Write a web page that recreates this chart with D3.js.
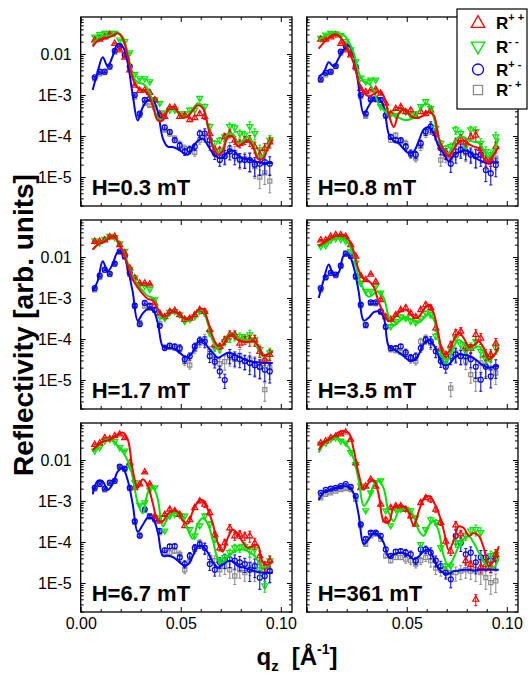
<!DOCTYPE html>
<html>
<head>
<meta charset="utf-8">
<title>Spin-polarized reflectivity vs field</title>
<script src="https://cdn.jsdelivr.net/npm/d3@7"></script>
<style>
  body { margin: 0; background: #fff; }
  svg { display: block; font-family: "Liberation Sans", Arial, sans-serif; }
</style>
</head>
<body>
<div id="chart"></div>
<script>
// q grid of the measured points and of the fitted curves (1/A)
const qData = [0.007, 0.0095, 0.012, 0.0145, 0.017, 0.0195, 0.022, 0.0245, 0.027, 0.0295, 0.032, 0.0345,
  0.037, 0.0395, 0.042, 0.0445, 0.047, 0.0495, 0.052, 0.0545, 0.057, 0.0595, 0.062, 0.0645,
  0.067, 0.0695, 0.072, 0.0745, 0.077, 0.0795, 0.082, 0.0845, 0.087, 0.0895, 0.092, 0.0945];
const qFit = [0.006, 0.0085, 0.011, 0.0135, 0.016, 0.0185, 0.021, 0.0235, 0.026, 0.0285, 0.031, 0.0335,
  0.036, 0.0385, 0.041, 0.0435, 0.046, 0.0485, 0.051, 0.0535, 0.056, 0.0585, 0.061, 0.0635,
  0.066, 0.0685, 0.071, 0.0735, 0.076, 0.0785, 0.081, 0.0835, 0.086, 0.0885, 0.091, 0.0935, 0.096];

const fieldLabels = ["H=0.3 mT", "H=0.8 mT", "H=1.7 mT", "H=3.5 mT", "H=6.7 mT", "H=361 mT"];
const xTicks = [0, 0.05, 0.10];
const xTickLabels = ["0.00", "0.05", "0.10"];
const yTicks = [1e-2, 1e-3, 1e-4, 1e-5];
const yTickLabels = ["0.01", "1E-3", "1E-4", "1E-5"];

// relative error bars (non spin-flip / spin-flip)
const errNSF = [0.03, 0.03, 0.03, 0.03, 0.03, 0.03, 0.03, 0.03, 0.03, 0.03, 0.03, 0.03,
  0.06, 0.06, 0.06, 0.06, 0.06, 0.1, 0.1, 0.1, 0.1, 0.1, 0.16, 0.16,
  0.16, 0.16, 0.22, 0.22, 0.22, 0.22, 0.22, 0.3, 0.3, 0.3, 0.3, 0.3];
const errSF = [0.04, 0.04, 0.04, 0.04, 0.04, 0.04, 0.06, 0.06, 0.06, 0.06, 0.06, 0.06,
  0.12, 0.12, 0.12, 0.12, 0.12, 0.2, 0.2, 0.2, 0.2, 0.2, 0.3, 0.3,
  0.3, 0.3, 0.38, 0.38, 0.38, 0.38, 0.38, 0.48, 0.48, 0.48, 0.48, 0.48];

// H = 0.3 mT
const pp1 = [2.2e-2, 2.3e-2, 2.6e-2, 3.0e-2, 1.82e-2, 1.26e-2, 8.3e-3, 4.1e-3, 1.74e-3, 1.29e-3, 1.32e-3, 1.15e-3,
  7.6e-4, 3.5e-4, 3.0e-4, 5.0e-4, 5.0e-4, 3.0e-4, 3.2e-4, 2.5e-4, 2.8e-4, 3.5e-4, 3.0e-4, 1.15e-4,
  4.6e-5, 4.6e-5, 9.5e-5, 1.15e-4, 7.9e-5, 6.6e-5, 7.9e-5, 7.9e-5, 5.5e-5, 3.5e-5, 5.0e-5, 7.2e-5];
const mm1 = [2.6e-2, 3.0e-2, 3.2e-2, 3.2e-2, 3.2e-2, 2.2e-2, 2.0e-2, 1.07e-2, 3.2e-3, 2.5e-3, 2.5e-3, 2.1e-3,
  7.6e-4, 6.3e-4, 3.7e-4, 4.3e-4, 4.3e-4, 3.5e-4, 3.5e-4, 4.3e-4, 4.3e-4, 8.3e-4, 5.2e-4, 1.7e-4,
  6.6e-5, 7.9e-5, 9.5e-5, 1.7e-4, 1.58e-4, 1.15e-4, 1.05e-4, 1.7e-4, 1.15e-4, 4.6e-5, 4.2e-5, 7.9e-5];
const pm1 = [2.7e-3, 3.7e-3, 3.7e-3, 5.0e-3, 1.2e-2, 1.58e-2, 9.5e-3, 5.0e-3, 1.0e-3, 3.5e-4, 7.6e-4, 8.1e-4,
  7.6e-4, 3.2e-4, 1.62e-4, 1.26e-4, 7.9e-5, 5.8e-5, 4.2e-5, 4.7e-5, 5.5e-5, 1.15e-4, 1.15e-4, 7.9e-5,
  3.8e-5, 2.6e-5, 3.2e-5, 4.2e-5, 3.2e-5, 2.7e-5, 2.6e-5, 2.6e-5, 2.0e-5, 2.1e-5, 2.3e-5, 2.1e-5];
const mp1 = [2.5e-3, 3.3e-3, 3.5e-3, 4.7e-3, 1.12e-2, 1.51e-2, 8.9e-3, 4.7e-3, 8.9e-4, 3.2e-4, 6.3e-4, 5.6e-4,
  5.0e-4, 2.8e-4, 1.41e-4, 1.12e-4, 8.9e-5, 6.3e-5, 5.0e-5, 4.5e-5, 4.0e-5, 7.9e-5, 1.0e-4, 6.3e-5,
  4.5e-5, 3.2e-5, 3.5e-5, 5.0e-5, 4.0e-5, 2.5e-5, 2.8e-5, 2.5e-5, 1.78e-5, 1.0e-5, 1.26e-5, 7.9e-6];
const fitPP1 = [1.51e-2, 2.1e-2, 2.3e-2, 2.5e-2, 2.8e-2, 3.2e-2, 2.4e-2, 8.9e-3, 2.5e-3, 1.51e-3, 1.32e-3, 1.07e-3,
  5.6e-4, 2.4e-4, 2.4e-4, 4.2e-4, 5.2e-4, 4.0e-4, 2.8e-4, 3.0e-4, 4.2e-4, 5.6e-4, 4.8e-4, 1.78e-4,
  5.6e-5, 3.5e-5, 4.2e-5, 9.5e-5, 9.5e-5, 5.6e-5, 6.6e-5, 7.9e-5, 5.6e-5, 2.8e-5, 2.8e-5, 5.0e-5, 8.3e-5];
const fitMM1 = [1.66e-2, 2.4e-2, 2.8e-2, 2.8e-2, 3.0e-2, 3.3e-2, 2.6e-2, 1.05e-2, 3.0e-3, 2.0e-3, 1.9e-3, 1.41e-3,
  6.6e-4, 2.8e-4, 2.5e-4, 4.2e-4, 5.0e-4, 3.8e-4, 2.8e-4, 3.2e-4, 4.5e-4, 6.3e-4, 5.2e-4, 1.9e-4,
  6.0e-5, 4.0e-5, 5.0e-5, 1.12e-4, 1.12e-4, 6.6e-5, 7.6e-5, 9.5e-5, 6.6e-5, 3.3e-5, 3.2e-5, 5.6e-5, 9.5e-5];
const fitPM1 = [1.32e-3, 3.7e-3, 8.3e-3, 5.0e-3, 8.9e-3, 1.74e-2, 1.51e-2, 6.0e-3, 1.0e-3, 2.4e-4, 5.0e-4, 7.4e-4,
  7.4e-4, 4.0e-4, 8.9e-5, 5.5e-5, 5.4e-5, 4.8e-5, 4.0e-5, 3.5e-5, 5.2e-5, 7.6e-5, 8.5e-5, 6.0e-5,
  3.8e-5, 3.0e-5, 3.0e-5, 4.0e-5, 4.4e-5, 3.5e-5, 2.8e-5, 2.7e-5, 2.5e-5, 2.3e-5, 2.2e-5, 2.2e-5, 2.2e-5];

// H = 0.8 mT
const pp2 = [2.3e-2, 2.3e-2, 2.6e-2, 2.9e-2, 1.82e-2, 1.26e-2, 9.5e-3, 4.9e-3, 1.45e-3, 1.2e-3, 1.32e-3, 1.38e-3,
  1.1e-3, 6.3e-4, 3.5e-4, 4.7e-4, 5.2e-4, 3.9e-4, 4.3e-4, 3.0e-4, 3.9e-4, 3.5e-4, 4.3e-4, 1.15e-4,
  5.5e-5, 3.8e-5, 3.5e-5, 7.2e-5, 8.7e-5, 7.2e-5, 9.5e-5, 1.05e-4, 5.0e-5, 2.6e-5, 2.6e-5, 5.5e-5];
const mm2 = [2.4e-2, 2.9e-2, 3.2e-2, 3.1e-2, 2.8e-2, 2.0e-2, 1.26e-2, 6.5e-3, 2.6e-3, 2.1e-3, 2.3e-3, 2.3e-3,
  5.2e-4, 4.3e-4, 3.5e-4, 3.2e-4, 4.3e-4, 3.9e-4, 3.2e-4, 3.5e-4, 5.2e-4, 6.9e-4, 4.7e-4, 1.55e-4,
  6.6e-5, 5.0e-5, 5.5e-5, 1.41e-4, 1.15e-4, 5.5e-5, 1.41e-4, 1.29e-4, 6.6e-5, 4.2e-5, 3.5e-5, 9.5e-5];
const pm2 = [2.4e-3, 3.5e-3, 3.7e-3, 5.1e-3, 1.15e-2, 1.58e-2, 1.07e-2, 4.9e-3, 1.0e-3, 3.5e-4, 7.9e-4, 7.9e-4,
  7.6e-4, 3.2e-4, 9.5e-5, 7.9e-5, 7.9e-5, 5.5e-5, 3.8e-5, 3.5e-5, 6.6e-5, 1.29e-4, 1.7e-4, 1.15e-4,
  5.0e-5, 3.8e-5, 2.1e-5, 3.5e-5, 4.6e-5, 4.2e-5, 3.5e-5, 3.2e-5, 3.5e-5, 1.48e-5, 1.23e-5, 1.95e-5];
const mp2 = [2.3e-3, 3.1e-3, 3.5e-3, 4.9e-3, 1.05e-2, 1.51e-2, 1.15e-2, 4.5e-3, 9.1e-4, 3.0e-4, 7.6e-4, 8.3e-4,
  7.6e-4, 3.0e-4, 7.9e-5, 1.05e-4, 7.2e-5, 6.6e-5, 3.5e-5, 2.9e-5, 5.5e-5, 1.15e-4, 1.55e-4, 1.29e-4,
  2.6e-5, 3.2e-5, 2.9e-5, 4.2e-5, 5.0e-5, 3.8e-5, 3.8e-5, 3.2e-5, 4.2e-5, 2.9e-5, 2.7e-5, 2.9e-5];
const fitPP2 = [1.35e-2, 1.9e-2, 2.5e-2, 3.0e-2, 2.8e-2, 2.0e-2, 1.17e-2, 6.0e-3, 2.1e-3, 1.12e-3, 9.3e-4, 1.05e-3,
  1.2e-3, 9.3e-4, 3.3e-4, 1.66e-4, 3.5e-4, 4.5e-4, 3.5e-4, 2.8e-4, 2.8e-4, 3.2e-4, 3.8e-4, 3.2e-4,
  8.9e-5, 4.5e-5, 3.3e-5, 4.8e-5, 7.1e-5, 7.6e-5, 6.3e-5, 5.5e-5, 5.0e-5, 2.8e-5, 2.2e-5, 3.5e-5, 5.6e-5];
const fitMM2 = [2.2e-2, 2.6e-2, 3.0e-2, 3.2e-2, 3.2e-2, 2.9e-2, 2.0e-2, 1.05e-2, 3.5e-3, 2.1e-3, 1.9e-3, 1.26e-3,
  6.0e-4, 4.3e-4, 3.3e-4, 3.2e-4, 2.8e-4, 2.5e-4, 2.5e-4, 2.8e-4, 4.0e-4, 5.8e-4, 5.8e-4, 2.8e-4,
  8.9e-5, 4.5e-5, 3.8e-5, 6.3e-5, 9.5e-5, 9.5e-5, 7.9e-5, 7.2e-5, 6.9e-5, 4.5e-5, 3.0e-5, 4.5e-5, 8.9e-5];
const fitPM2 = [2.8e-3, 3.5e-3, 6.3e-3, 5.0e-3, 7.9e-3, 1.26e-2, 1.62e-2, 9.5e-3, 1.58e-3, 3.5e-4, 5.4e-4, 8.1e-4,
  8.1e-4, 5.2e-4, 1.12e-4, 7.6e-5, 6.6e-5, 4.8e-5, 3.8e-5, 4.2e-5, 7.6e-5, 1.45e-4, 1.66e-4, 1.12e-4,
  5.5e-5, 3.7e-5, 2.4e-5, 3.4e-5, 4.0e-5, 4.4e-5, 4.2e-5, 3.2e-5, 2.6e-5, 2.3e-5, 2.1e-5, 2.3e-5, 2.3e-5];

// H = 1.7 mT
const pp3 = [2.4e-2, 2.4e-2, 2.6e-2, 3.1e-2, 3.2e-2, 2.0e-2, 1.26e-2, 5.4e-3, 3.1e-3, 2.3e-3, 2.3e-3, 2.2e-3,
  7.6e-4, 4.3e-4, 3.5e-4, 4.7e-4, 5.0e-4, 3.9e-4, 3.0e-4, 3.2e-4, 3.9e-4, 5.2e-4, 4.7e-4, 1.7e-4,
  7.2e-5, 6.6e-5, 9.5e-5, 1.29e-4, 1.29e-4, 7.9e-5, 9.5e-5, 9.5e-5, 9.5e-5, 5.0e-5, 3.2e-5, 4.2e-5];
const mm3 = [2.5e-2, 2.2e-2, 2.7e-2, 3.2e-2, 3.0e-2, 2.1e-2, 1.38e-2, 5.0e-3, 3.1e-3, 2.1e-3, 1.95e-3, 1.62e-3,
  9.1e-4, 3.5e-4, 3.2e-4, 4.5e-4, 4.7e-4, 3.9e-4, 2.7e-4, 3.0e-4, 3.5e-4, 4.7e-4, 4.3e-4, 1.41e-4,
  6.0e-5, 5.5e-5, 8.7e-5, 1.05e-4, 1.15e-4, 1.15e-4, 1.05e-4, 1.26e-4, 9.5e-5, 5.5e-5, 2.9e-5, 4.6e-5];
const pm3 = [1.74e-3, 3.5e-3, 4.9e-3, 3.9e-3, 6.9e-3, 1.38e-2, 1.05e-2, 4.1e-3, 6.5e-4, 2.3e-4, 7.6e-4, 6.5e-4,
  5.2e-4, 2.1e-4, 6.0e-5, 6.9e-5, 6.6e-5, 6.0e-5, 3.2e-5, 3.8e-5, 6.6e-5, 9.3e-5, 8.7e-5, 3.8e-5,
  2.8e-5, 1.62e-5, 1.0e-5, 4.0e-5, 3.5e-5, 3.2e-5, 2.9e-5, 2.6e-5, 2.3e-5, 2.1e-5, 1.78e-5, 1.62e-5];
const mp3 = [1.58e-3, 3.2e-3, 4.7e-3, 3.7e-3, 6.6e-3, 1.32e-2, 1.0e-2, 3.8e-3, 6.3e-4, 2.5e-4, 6.3e-4, 5.6e-4,
  5.0e-4, 2.4e-4, 6.3e-5, 6.3e-5, 6.0e-5, 5.6e-5, 2.8e-5, 2.3e-5, 5.6e-5, 7.9e-5, 1.0e-4, 5.0e-5,
  3.2e-5, 2.5e-5, 2.8e-5, 3.5e-5, 3.2e-5, 4.0e-5, 2.8e-5, 3.2e-5, 2.5e-5, 2.0e-5, 5.8e-6, 2.0e-5];
const fitPP3 = [1.51e-2, 2.0e-2, 2.3e-2, 2.7e-2, 3.2e-2, 2.4e-2, 1.35e-2, 6.3e-3, 2.8e-3, 1.82e-3, 1.26e-3, 9.5e-4,
  8.7e-4, 5.4e-4, 3.5e-4, 3.8e-4, 4.7e-4, 4.2e-4, 3.3e-4, 3.0e-4, 3.5e-4, 5.0e-4, 5.4e-4, 2.8e-4,
  1.12e-4, 6.9e-5, 7.1e-5, 1.12e-4, 1.32e-4, 9.5e-5, 8.7e-5, 8.3e-5, 9.1e-5, 7.1e-5, 4.0e-5, 4.2e-5, 5.0e-5];
const fitMM3 = [1.51e-2, 2.0e-2, 2.4e-2, 2.8e-2, 3.1e-2, 2.5e-2, 1.45e-2, 7.1e-3, 3.3e-3, 2.1e-3, 1.51e-3, 1.12e-3,
  1.0e-3, 5.6e-4, 3.3e-4, 3.5e-4, 4.5e-4, 4.0e-4, 3.2e-4, 2.8e-4, 3.5e-4, 4.8e-4, 5.0e-4, 2.4e-4,
  8.9e-5, 6.0e-5, 7.6e-5, 1.2e-4, 1.41e-4, 1.1e-4, 1.0e-4, 9.5e-5, 8.9e-5, 6.6e-5, 3.8e-5, 4.4e-5, 5.2e-5];
const fitPM3 = [1.45e-3, 2.6e-3, 7.9e-3, 4.5e-3, 6.8e-3, 1.32e-2, 1.26e-2, 5.2e-3, 1.41e-3, 2.8e-4, 4.2e-4, 5.4e-4,
  5.2e-4, 2.5e-4, 6.6e-5, 6.0e-5, 5.9e-5, 5.0e-5, 4.0e-5, 3.6e-5, 4.8e-5, 8.5e-5, 9.3e-5, 6.3e-5,
  4.6e-5, 3.5e-5, 4.0e-5, 4.6e-5, 4.4e-5, 3.8e-5, 3.3e-5, 3.0e-5, 2.8e-5, 2.7e-5, 2.6e-5, 2.6e-5, 2.6e-5];

// H = 3.5 mT
const pp4 = [2.6e-2, 2.6e-2, 3.2e-2, 3.5e-2, 3.5e-2, 3.2e-2, 2.0e-2, 1.05e-2, 3.5e-3, 2.8e-3, 3.8e-3, 2.5e-3,
  9.1e-4, 3.5e-4, 3.0e-4, 3.9e-4, 5.2e-4, 5.8e-4, 4.3e-4, 3.5e-4, 5.2e-4, 6.9e-4, 5.8e-4, 1.86e-4,
  6.0e-5, 4.2e-5, 7.2e-5, 1.41e-4, 1.55e-4, 6.6e-5, 6.0e-5, 1.29e-4, 1.05e-4, 4.2e-5, 4.2e-5, 7.9e-5];
const mm4 = [1.82e-2, 1.9e-2, 2.6e-2, 2.8e-2, 2.7e-2, 2.4e-2, 1.38e-2, 7.1e-3, 2.3e-3, 1.45e-3, 1.45e-3, 1.9e-3,
  1.32e-3, 3.5e-4, 2.0e-4, 2.7e-4, 3.5e-4, 3.2e-4, 2.7e-4, 2.5e-4, 3.2e-4, 4.3e-4, 3.9e-4, 1.17e-4,
  4.6e-5, 2.9e-5, 5.5e-5, 1.05e-4, 7.2e-5, 5.0e-5, 6.6e-5, 8.7e-5, 5.0e-5, 3.2e-5, 3.8e-5, 6.0e-5];
const pm4 = [1.74e-3, 3.2e-3, 4.1e-3, 3.7e-3, 6.2e-3, 1.2e-2, 1.05e-2, 3.4e-3, 6.9e-4, 2.2e-4, 7.8e-4, 7.8e-4,
  4.7e-4, 2.0e-4, 6.0e-5, 6.0e-5, 6.6e-5, 4.7e-5, 3.5e-5, 3.8e-5, 6.0e-5, 9.5e-5, 8.7e-5, 5.0e-5,
  2.9e-5, 2.1e-5, 3.8e-5, 4.2e-5, 3.8e-5, 3.8e-5, 3.2e-5, 2.1e-5, 1.02e-5, 2.1e-5, 1.23e-5, 2.1e-5];
const mp4 = [1.58e-3, 3.1e-3, 4.0e-3, 3.5e-3, 5.9e-3, 1.26e-2, 1.07e-2, 3.2e-3, 6.5e-4, 2.1e-4, 7.4e-4, 7.2e-4,
  4.5e-4, 1.95e-4, 5.5e-5, 5.2e-5, 4.7e-5, 4.2e-5, 3.2e-5, 2.9e-5, 8.7e-5, 1.05e-4, 7.9e-5, 5.0e-5,
  3.3e-5, 2.9e-5, 6.3e-6, 4.6e-5, 3.8e-5, 2.9e-5, 1.35e-5, 1.02e-5, 2.6e-5, 2.3e-5, 1.95e-5, 1.48e-5];
const fitPP4 = [1.9e-2, 2.2e-2, 2.7e-2, 3.1e-2, 3.4e-2, 3.5e-2, 2.6e-2, 1.38e-2, 4.8e-3, 2.9e-3, 2.6e-3, 1.86e-3,
  7.9e-4, 4.2e-4, 2.7e-4, 3.2e-4, 4.4e-4, 5.2e-4, 4.7e-4, 3.3e-4, 3.5e-4, 5.2e-4, 6.9e-4, 4.2e-4,
  1.2e-4, 4.2e-5, 4.8e-5, 9.5e-5, 1.41e-4, 1.05e-4, 6.6e-5, 6.9e-5, 8.7e-5, 6.0e-5, 3.2e-5, 4.0e-5, 6.3e-5];
const fitMM4 = [1.74e-2, 2.0e-2, 2.4e-2, 2.7e-2, 2.9e-2, 2.8e-2, 2.1e-2, 1.12e-2, 3.2e-3, 1.58e-3, 1.07e-3, 1.26e-3,
  1.45e-3, 1.0e-3, 3.5e-4, 2.1e-4, 2.6e-4, 3.2e-4, 3.2e-4, 2.8e-4, 2.5e-4, 3.2e-4, 4.0e-4, 3.0e-4,
  8.9e-5, 3.3e-5, 3.3e-5, 6.6e-5, 9.5e-5, 7.9e-5, 5.5e-5, 6.0e-5, 6.6e-5, 4.5e-5, 2.9e-5, 3.8e-5, 5.6e-5];
const fitPM4 = [1.0e-3, 2.8e-3, 6.6e-3, 3.6e-3, 4.2e-3, 1.07e-2, 1.12e-2, 5.6e-3, 1.41e-3, 2.8e-4, 3.3e-4, 4.5e-4,
  4.7e-4, 3.3e-4, 6.6e-5, 5.5e-5, 4.7e-5, 3.8e-5, 3.0e-5, 3.0e-5, 4.2e-5, 7.6e-5, 9.5e-5, 7.1e-5,
  3.8e-5, 2.3e-5, 2.4e-5, 3.3e-5, 4.2e-5, 4.1e-5, 3.9e-5, 3.4e-5, 2.7e-5, 2.2e-5, 2.0e-5, 2.1e-5, 2.2e-5];

// H = 6.7 mT
const pp5 = [2.4e-2, 2.6e-2, 3.5e-2, 3.3e-2, 3.9e-2, 4.3e-2, 3.5e-2, 8.5e-3, 2.1e-3, 2.6e-3, 5.1e-3, 2.6e-3,
  4.3e-4, 3.2e-4, 4.7e-4, 6.3e-4, 5.8e-4, 4.7e-4, 2.5e-4, 3.5e-4, 6.9e-4, 1.0e-3, 8.3e-4, 5.2e-4,
  1.55e-4, 7.2e-5, 9.5e-5, 2.2e-4, 1.41e-4, 1.55e-4, 1.41e-4, 1.41e-4, 9.5e-5, 4.6e-5, 2.6e-5, 3.5e-5];
const mm5 = [1.66e-2, 2.0e-2, 2.9e-2, 3.2e-2, 2.8e-2, 2.0e-2, 1.66e-2, 7.1e-3, 2.8e-3, 7.9e-4, 9.1e-4, 1.86e-3,
  2.1e-3, 3.9e-4, 1.86e-4, 4.3e-4, 4.7e-4, 4.5e-4, 4.3e-4, 2.0e-4, 1.41e-4, 2.5e-4, 4.3e-4, 2.7e-4,
  1.17e-4, 3.5e-5, 4.2e-5, 5.5e-5, 7.2e-5, 7.2e-5, 7.9e-5, 6.0e-5, 6.6e-5, 2.1e-5, 8.5e-6, 3.5e-5];
const pm5 = [2.1e-3, 2.6e-3, 2.0e-3, 2.8e-3, 3.1e-3, 6.9e-3, 6.2e-3, 2.1e-3, 3.2e-4, 1.41e-4, 6.3e-4, 4.2e-4,
  3.7e-4, 1.86e-4, 6.3e-5, 7.8e-5, 7.9e-5, 4.2e-5, 2.9e-5, 4.6e-5, 7.2e-5, 8.7e-5, 7.2e-5, 2.9e-5,
  2.1e-5, 3.2e-5, 3.6e-5, 3.8e-5, 3.5e-5, 3.2e-5, 2.9e-5, 2.1e-5, 2.6e-5, 1.35e-5, 1.48e-5, 1.95e-5];
const mp5 = [1.95e-3, 2.5e-3, 1.86e-3, 2.7e-3, 3.0e-3, 6.6e-3, 5.9e-3, 2.0e-3, 3.0e-4, 1.48e-4, 5.8e-4, 4.4e-4,
  3.5e-4, 1.7e-4, 5.5e-5, 5.5e-5, 6.0e-5, 5.0e-5, 2.1e-5, 3.8e-5, 6.6e-5, 9.5e-5, 7.2e-5, 4.2e-5,
  3.5e-5, 2.1e-5, 2.6e-5, 2.1e-5, 1.48e-5, 2.1e-5, 1.78e-5, 2.9e-5, 2.1e-5, 3.2e-5, 2.1e-5, 1.95e-5];
const fitPP5 = [1.74e-2, 2.3e-2, 2.8e-2, 3.0e-2, 3.4e-2, 4.2e-2, 4.7e-2, 3.2e-2, 5.6e-3, 2.1e-3, 3.4e-3, 2.4e-3,
  8.9e-4, 3.4e-4, 3.2e-4, 4.8e-4, 5.8e-4, 5.5e-4, 3.3e-4, 2.8e-4, 5.6e-4, 9.3e-4, 1.05e-3, 6.3e-4,
  2.8e-4, 9.5e-5, 5.8e-5, 1.26e-4, 2.0e-4, 1.58e-4, 1.0e-4, 7.2e-5, 7.9e-5, 8.3e-5, 3.2e-5, 2.8e-5, 3.5e-5];
const fitMM5 = [1.58e-2, 2.1e-2, 2.8e-2, 3.2e-2, 3.0e-2, 2.2e-2, 1.58e-2, 9.5e-3, 3.8e-3, 8.9e-4, 5.0e-4, 1.58e-3,
  2.3e-3, 1.12e-3, 2.4e-4, 3.8e-4, 5.0e-4, 5.0e-4, 3.8e-4, 2.0e-4, 1.2e-4, 2.8e-4, 3.8e-4, 2.8e-4,
  1.12e-4, 4.0e-5, 3.2e-5, 4.4e-5, 5.5e-5, 6.3e-5, 6.6e-5, 6.0e-5, 5.0e-5, 3.5e-5, 2.4e-5, 2.6e-5, 3.5e-5];
const fitPM5 = [1.45e-3, 3.1e-3, 3.0e-3, 1.86e-3, 2.6e-3, 5.2e-3, 6.3e-3, 3.2e-3, 8.3e-4, 1.78e-4, 2.6e-4, 3.9e-4,
  3.7e-4, 1.78e-4, 4.6e-5, 4.6e-5, 4.3e-5, 3.5e-5, 2.8e-5, 2.8e-5, 4.5e-5, 7.9e-5, 7.6e-5, 5.6e-5,
  3.3e-5, 2.4e-5, 2.8e-5, 3.4e-5, 3.4e-5, 2.6e-5, 2.4e-5, 2.2e-5, 2.0e-5, 1.86e-5, 1.78e-5, 1.78e-5, 1.78e-5];

// H = 361 mT
const pp6 = [2.6e-2, 2.9e-2, 3.5e-2, 3.8e-2, 4.3e-2, 4.8e-2, 3.2e-2, 8.5e-3, 2.1e-3, 2.3e-3, 3.4e-3, 2.3e-3,
  8.3e-4, 3.5e-4, 6.9e-4, 7.6e-4, 7.6e-4, 6.3e-4, 4.3e-4, 2.7e-4, 9.1e-4, 1.2e-3, 1.1e-3, 6.3e-4,
  3.0e-4, 1.05e-4, 6.0e-5, 2.6e-4, 1.58e-4, 3.5e-5, 2.8e-5, 4.0e-6, 2.5e-5, 2.8e-5, 2.5e-5, 5.0e-5];
const mm6 = [2.4e-2, 2.6e-2, 3.2e-2, 3.5e-2, 2.9e-2, 2.6e-2, 1.51e-2, 7.8e-3, 2.3e-3, 5.8e-4, 1.58e-3, 2.8e-3,
  3.1e-3, 5.8e-4, 2.5e-4, 6.3e-4, 6.3e-4, 6.3e-4, 5.8e-4, 3.9e-4, 8.7e-5, 2.0e-4, 3.5e-4, 3.0e-4,
  7.2e-5, 2.6e-5, 2.6e-5, 9.5e-5, 9.5e-5, 1.41e-4, 1.86e-4, 2.0e-4, 1.7e-4, 3.2e-5, 4.6e-5, 5.0e-5];
const pm6 = [1.58e-3, 1.86e-3, 2.0e-3, 2.1e-3, 2.3e-3, 2.6e-3, 2.2e-3, 1.32e-3, 2.7e-4, 1.2e-4, 1.7e-4, 1.7e-4,
  1.41e-4, 6.6e-5, 4.6e-5, 5.8e-5, 6.0e-5, 5.5e-5, 5.0e-5, 3.5e-5, 6.6e-5, 6.6e-5, 5.5e-5, 3.5e-5,
  2.6e-5, 1.78e-5, 1.23e-5, 1.41e-4, 9.5e-5, 5.0e-5, 5.5e-5, 3.2e-5, 4.2e-5, 4.2e-5, 3.5e-5, 3.8e-5];
const mp6 = [1.2e-3, 1.45e-3, 1.58e-3, 1.74e-3, 1.9e-3, 2.0e-3, 1.9e-3, 1.1e-3, 2.5e-4, 8.7e-5, 1.41e-4, 1.55e-4,
  1.17e-4, 4.6e-5, 3.5e-5, 4.2e-5, 4.2e-5, 3.8e-5, 3.5e-5, 2.9e-5, 3.5e-5, 4.2e-5, 3.5e-5, 2.3e-5,
  2.1e-5, 1.95e-5, 1.78e-5, 1.78e-5, 1.95e-5, 2.1e-5, 1.95e-5, 2.1e-5, 1.78e-5, 1.35e-5, 1.02e-5, 1.12e-5];
const fitPP6 = [1.74e-2, 2.6e-2, 3.1e-2, 3.8e-2, 4.8e-2, 5.1e-2, 4.6e-2, 1.78e-2, 4.5e-3, 1.9e-3, 2.8e-3, 3.2e-3,
  1.41e-3, 3.2e-4, 3.0e-4, 7.1e-4, 7.8e-4, 7.4e-4, 5.2e-4, 2.5e-4, 5.6e-4, 1.12e-3, 1.32e-3, 9.5e-4,
  5.0e-4, 1.9e-4, 6.3e-5, 1.1e-4, 2.4e-4, 2.2e-4, 1.41e-4, 1.66e-4, 1.41e-4, 7.1e-5, 2.6e-5, 3.6e-5, 7.9e-5];
const fitMM6 = [1.51e-2, 2.4e-2, 3.0e-2, 3.4e-2, 3.3e-2, 2.7e-2, 2.0e-2, 1.05e-2, 3.2e-3, 7.6e-4, 1.12e-3, 2.5e-3,
  3.2e-3, 2.0e-3, 5.2e-4, 3.2e-4, 5.8e-4, 6.3e-4, 6.2e-4, 4.3e-4, 1.9e-4, 1.41e-4, 2.5e-4, 3.3e-4,
  1.78e-4, 4.5e-5, 2.6e-5, 4.2e-5, 7.9e-5, 1.2e-4, 1.38e-4, 9.5e-5, 5.5e-5, 3.3e-5, 2.5e-5, 2.4e-5, 4.2e-5];
const fitPM6 = [1.05e-3, 1.62e-3, 1.82e-3, 2.0e-3, 2.2e-3, 2.3e-3, 2.2e-3, 1.51e-3, 4.5e-4, 8.9e-5, 1.17e-4, 1.62e-4,
  1.45e-4, 9.5e-5, 4.3e-5, 5.0e-5, 5.5e-5, 5.4e-5, 4.7e-5, 3.8e-5, 4.4e-5, 6.0e-5, 6.6e-5, 4.0e-5,
  2.2e-5, 1.74e-5, 1.7e-5, 1.95e-5, 2.0e-5, 2.1e-5, 2.1e-5, 2.0e-5, 2.1e-5, 2.1e-5, 2.1e-5, 2.1e-5, 2.1e-5];

const panels = [
  { label: fieldLabels[0], pp: pp1, mm: mm1, pm: pm1, mp: mp1, fpp: fitPP1, fmm: fitMM1, fpm: fitPM1 },
  { label: fieldLabels[1], pp: pp2, mm: mm2, pm: pm2, mp: mp2, fpp: fitPP2, fmm: fitMM2, fpm: fitPM2 },
  { label: fieldLabels[2], pp: pp3, mm: mm3, pm: pm3, mp: mp3, fpp: fitPP3, fmm: fitMM3, fpm: fitPM3 },
  { label: fieldLabels[3], pp: pp4, mm: mm4, pm: pm4, mp: mp4, fpp: fitPP4, fmm: fitMM4, fpm: fitPM4 },
  { label: fieldLabels[4], pp: pp5, mm: mm5, pm: pm5, mp: mp5, fpp: fitPP5, fmm: fitMM5, fpm: fitPM5 },
  { label: fieldLabels[5], pp: pp6, mm: mm6, pm: pm6, mp: mp6, fpp: fitPP6, fmm: fitMM6, fpm: fitPM6 }
];

const width = 530, height = 677;
const colX = [80.7, 306.7];
const rowY = [17, 220, 423];
const panelW = 211.3, panelH = 189;
const qMax = 0.1056;
const yDomain = [1.96e-6, 0.0799];

const colors = { pp: "#ff0000", mm: "#00e400", pm: "#0000ff", mp: "#8a8a8a" };

function marker(kind, s) {
  if (kind === "pp") return `M0,${-s * 0.62}L${s * 0.56},${s * 0.36}L${-s * 0.56},${s * 0.36}Z`;
  if (kind === "mm") return `M0,${s * 0.62}L${s * 0.56},${-s * 0.36}L${-s * 0.56},${-s * 0.36}Z`;
  if (kind === "pm") {
    const r = s * 0.46;
    return `M${r},0A${r},${r} 0 1,1 ${-r},0A${r},${r} 0 1,1 ${r},0Z`;
  }
  const h = s * 0.38;
  return `M${-h},${-h}h${2 * h}v${2 * h}h${-2 * h}Z`;
}

const svg = d3.select("#chart").append("svg")
  .attr("width", width)
  .attr("height", height);

// minor log ticks
const yMinor = [];
for (let e = -6; e <= -2; e++) {
  for (let m = 2; m <= 9; m++) {
    const v = m * Math.pow(10, e);
    if (v > yDomain[0] && v < yDomain[1]) yMinor.push(v);
  }
}
const xMinor = [0.01, 0.02, 0.03, 0.04, 0.06, 0.07, 0.08, 0.09];

panels.forEach((p, i) => {
  const col = i % 2, row = Math.floor(i / 2);
  const x0 = colX[col], y0 = rowY[row];

  const x = d3.scaleLinear().domain([0, qMax]).range([x0, x0 + panelW]);
  const y = d3.scaleLog().domain(yDomain).range([y0 + panelH, y0]);

  const g = svg.append("g");

  g.append("clipPath").attr("id", "clip" + i)
    .append("rect")
    .attr("x", x0).attr("y", y0)
    .attr("width", panelW).attr("height", panelH);

  const plot = g.append("g").attr("clip-path", `url(#clip${i})`);

  // error bars + symbols
  ["mp", "pm", "mm", "pp"].forEach(key => {
    const vals = p[key];
    const err = (key === "pp" || key === "mm") ? errNSF : errSF;
    const pts = vals.map((v, j) => ({ q: qData[j], v: v, e: err[j] }));

    const eg = plot.append("g").attr("stroke", colors[key]).attr("stroke-width", 1).attr("fill", "none");
    eg.selectAll("path.err")
      .data(pts)
      .join("path")
      .attr("class", "err")
      .attr("d", d => {
        const xx = x(d.q), lo = y(d.v * (1 - d.e)), hi = y(d.v * (1 + d.e));
        return `M${xx},${lo}V${hi}M${xx - 1.5},${lo}h3M${xx - 1.5},${hi}h3`;
      });

    plot.append("g")
      .selectAll("path.pt")
      .data(pts)
      .join("path")
      .attr("class", "pt")
      .attr("transform", d => `translate(${x(d.q)},${y(d.v)})`)
      .attr("d", marker(key, 5.4))
      .attr("fill", "none")
      .attr("stroke", colors[key])
      .attr("stroke-width", 1.2);
  });

  // fitted curves
  const line = d3.line()
    .x((d, j) => x(qFit[j]))
    .y(d => y(d))
    .curve(d3.curveCatmullRom.alpha(0.5));

  [["fpm", "pm"], ["fmm", "mm"], ["fpp", "pp"]].forEach(([k, c]) => {
    plot.append("path")
      .datum(p[k])
      .attr("d", line)
      .attr("fill", "none")
      .attr("stroke", colors[c])
      .attr("stroke-width", 2);
  });

  // axes (ticks inside the frame)
  const styleAxis = sel => {
    sel.select(".domain").remove();
    sel.selectAll("line").attr("stroke", "#000").attr("stroke-width", 1);
    sel.selectAll("text")
      .attr("font-size", 16)
      .attr("font-family", "'Liberation Sans', Arial, sans-serif")
      .attr("fill", "#000");
  };

  g.append("g").attr("transform", `translate(${x0},0)`)
    .call(d3.axisLeft(y).tickValues(yTicks).tickSize(-5).tickPadding(9)
      .tickFormat((d, j) => col === 0 ? yTickLabels[j] : ""))
    .call(styleAxis);
  g.append("g").attr("transform", `translate(${x0},0)`)
    .call(d3.axisLeft(y).tickValues(yMinor).tickSize(-3).tickFormat(""))
    .call(styleAxis);
  g.append("g").attr("transform", `translate(${x0 + panelW},0)`)
    .call(d3.axisRight(y).tickValues(yTicks).tickSize(-5).tickFormat(""))
    .call(styleAxis);
  g.append("g").attr("transform", `translate(${x0 + panelW},0)`)
    .call(d3.axisRight(y).tickValues(yMinor).tickSize(-3).tickFormat(""))
    .call(styleAxis);

  // bottom row shows q labels; the right column omits the 0.00 label
  g.append("g").attr("transform", `translate(0,${y0 + panelH})`)
    .call(d3.axisBottom(x).tickValues(xTicks).tickSize(-5).tickPadding(6)
      .tickFormat((d, j) => (row === 2 && !(col === 1 && j === 0)) ? xTickLabels[j] : ""))
    .call(styleAxis);
  g.append("g").attr("transform", `translate(0,${y0 + panelH})`)
    .call(d3.axisBottom(x).tickValues(xMinor).tickSize(-3).tickFormat(""))
    .call(styleAxis);
  g.append("g").attr("transform", `translate(0,${y0})`)
    .call(d3.axisTop(x).tickValues(xTicks).tickSize(-5).tickFormat(""))
    .call(styleAxis);
  g.append("g").attr("transform", `translate(0,${y0})`)
    .call(d3.axisTop(x).tickValues(xMinor).tickSize(-3).tickFormat(""))
    .call(styleAxis);

  g.append("rect")
    .attr("x", x0).attr("y", y0)
    .attr("width", panelW).attr("height", panelH)
    .attr("fill", "none")
    .attr("stroke", "#000")
    .attr("stroke-width", 1.3);

  g.append("text")
    .attr("x", x0 + 11)
    .attr("y", y0 + panelH - 11)
    .attr("font-size", 22)
    .attr("font-weight", "bold")
    .text(p.label);
});

// axis titles
svg.append("text")
  .attr("transform", "translate(33,325) rotate(-90)")
  .attr("text-anchor", "middle")
  .attr("font-size", 28)
  .attr("font-weight", "bold")
  .text("Reflectivity [arb. units]");

const xt = svg.append("text")
  .attr("x", 297).attr("y", 665)
  .attr("text-anchor", "middle")
  .attr("font-size", 24)
  .attr("font-weight", "bold");
xt.append("tspan").text("q");
xt.append("tspan").attr("font-size", 15).attr("dy", 6).text("z");
xt.append("tspan").attr("dy", -6).attr("dx", 13).text("[Å");
xt.append("tspan").attr("font-size", 14).attr("dy", -11).text("-1");
xt.append("tspan").attr("dy", 11).text("]");

// legend
const legendKeys = ["pp", "mm", "pm", "mp"];
const legendSup = ["+ +", "- -", "+ -", "- +"];
const legendRowY = [23, 46.5, 69.5, 90];
const lg = svg.append("g");
lg.append("rect")
  .attr("x", 457).attr("y", 9)
  .attr("width", 70).attr("height", 100)
  .attr("fill", "#fff")
  .attr("stroke", "#000")
  .attr("stroke-width", 1.2);
legendKeys.forEach((k, j) => {
  lg.append("path")
    .attr("transform", `translate(478,${legendRowY[j]})`)
    .attr("d", marker(k, 12))
    .attr("fill", "none")
    .attr("stroke", colors[k])
    .attr("stroke-width", 1.3);
  const t = lg.append("text")
    .attr("x", 496).attr("y", legendRowY[j] + 6)
    .attr("font-size", 17)
    .attr("font-weight", "bold");
  t.append("tspan").text("R");
  t.append("tspan").attr("font-size", 11).attr("dy", -8).text(legendSup[j]);
});
</script>
</body>
</html>
